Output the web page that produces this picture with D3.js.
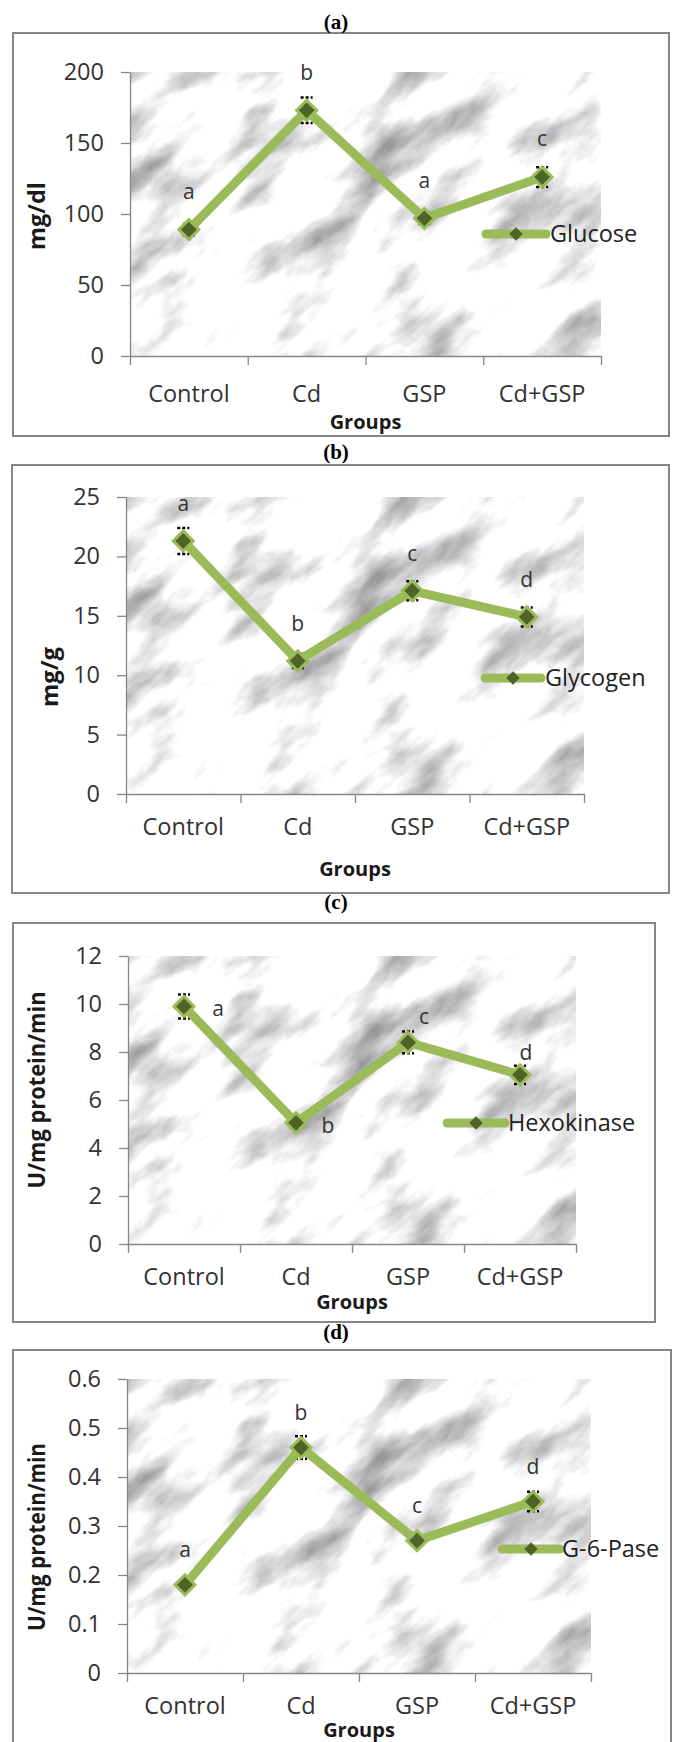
<!DOCTYPE html>
<html><head><meta charset="utf-8">
<script src="https://cdn.jsdelivr.net/npm/d3@7"></script>
<style>body{margin:0;background:#fff} svg{display:block}</style>
</head><body><svg id="c" width="673" height="1742"></svg>
<script>
const categories = ["Control","Cd","GSP","Cd+GSP"];

const glucoseValues = [89, 173, 97, 126];
const glucoseErrors = [4, 9, 4, 7];
const glucoseLetters = ["a","b","a","c"];
const glucoseTicks = [0,50,100,150,200];

const glycogenValues = [21.3, 11.2, 17.1, 14.9];
const glycogenErrors = [1.1, 0.6, 0.8, 0.8];
const glycogenLetters = ["a","b","c","d"];
const glycogenTicks = [0,5,10,15,20,25];

const hexokinaseValues = [9.9, 5.05, 8.4, 7.05];
const hexokinaseErrors = [0.5, 0.2, 0.45, 0.38];
const hexokinaseLetters = ["a","b","c","d"];
const hexokinaseTicks = [0,2,4,6,8,10,12];

const g6paseValues = [0.18, 0.46, 0.27, 0.35];
const g6paseErrors = [0.01, 0.023, 0.01, 0.02];
const g6paseLetters = ["a","b","c","d"];
const g6paseTicks = [0,0.1,0.2,0.3,0.4,0.5,0.6];

const panelTitles = ["(a)","(b)","(c)","(d)"];
const seriesNames = ["Glucose","Glycogen","Hexokinase","G-6-Pase"];
const yTitles = ["mg/dl","mg/g","U/mg protein/min","U/mg protein/min"];
const xTitle = "Groups";

const fmtInt = d3.format("d");
const fmtDec = d => d === 0 ? "0" : d3.format(".1f")(d);

const panels = [
  {values:glucoseValues, errors:glucoseErrors, letters:glucoseLetters, ticks:glucoseTicks, fmt:fmtInt,
   frame:[13,33,669,436], titleY:29, x0:130, x1:601, yTop:72, yBot:356,
   yt:{x:37,y:216,len:68}, catY:402, groupsY:429,
   legend:{x1:486,x2:546,y:234,tx:550},
   off:[[0,-38],[0,-38],[0,-38],[0,-38]]},
  {values:glycogenValues, errors:glycogenErrors, letters:glycogenLetters, ticks:glycogenTicks, fmt:fmtInt,
   frame:[12,465,669,893], titleY:459, x0:126, x1:584, yTop:497, yBot:794,
   yt:{x:50,y:677,len:60}, catY:835, groupsY:876,
   legend:{x1:485,x2:541,y:678,tx:545},
   off:[[0,-37],[0,-37],[0,-37],[0,-37]]},
  {values:hexokinaseValues, errors:hexokinaseErrors, letters:hexokinaseLetters, ticks:hexokinaseTicks, fmt:fmtInt,
   frame:[13,923,655,1322], titleY:909, x0:128, x1:576, yTop:956, yBot:1244,
   yt:{x:37,y:1090,len:197}, catY:1285, groupsY:1309,
   legend:{x1:447,x2:505,y:1123,tx:508},
   off:[[34,2],[32,3],[16,-26],[6,-22]]},
  {values:g6paseValues, errors:g6paseErrors, letters:g6paseLetters, ticks:g6paseTicks, fmt:fmtDec,
   frame:[13,1350,671,1762], titleY:1339, x0:127, x1:591, yTop:1379, yBot:1673,
   yt:{x:37,y:1537,len:188}, catY:1714, groupsY:1737,
   legend:{x1:502,x2:560,y:1549,tx:562},
   off:[[0,-35],[0,-35],[0,-35],[0,-35]]}
];

const FONT = "'Open Sans', 'Noto Sans', sans-serif";
const LINE = "#9bbb59", MARK = "#4f6228", TXT = "#333333", AX = "#868686";

const svg = d3.select("#c");
const defs = svg.append("defs");
const f = defs.append("filter").attr("id","marble")
  .attr("x",0).attr("y",0).attr("width",1).attr("height",1)
  .attr("color-interpolation-filters","sRGB");
f.append("feTurbulence").attr("type","fractalNoise").attr("baseFrequency","0.01 0.024")
  .attr("numOctaves",5).attr("seed",7).attr("result","n");
f.append("feColorMatrix").attr("type","matrix")
  .attr("values","1.1 0 0 0 0.43  1.1 0 0 0 0.43  1.1 0 0 0 0.44  0 0 0 0 1");

panels.forEach((p,i) => {
  const g = svg.append("g");
  const [fx0,fy0,fx1,fy1] = p.frame;
  g.append("rect").attr("x",fx0).attr("y",fy0).attr("width",fx1-fx0).attr("height",fy1-fy0)
    .attr("fill","#fff").attr("stroke",AX).attr("stroke-width",2);
  svg.append("text").attr("x",336).attr("y",p.titleY).attr("text-anchor","middle")
    .attr("font-family","'Liberation Serif', 'Times New Roman', serif").attr("font-weight","bold")
    .attr("font-size",21).attr("fill","#000").text(panelTitles[i]);

  const x = d3.scaleBand().domain(categories).range([p.x0,p.x1]);
  const xb = d3.scaleLinear().domain([0,categories.length]).range([p.x0,p.x1]);
  const y = d3.scaleLinear().domain([0,d3.max(p.ticks)]).range([p.yBot,p.yTop]);
  const cxOf = c => x(c) + x.bandwidth()/2;

  // marble background
  defs.append("clipPath").attr("id","clip"+i).append("rect")
    .attr("x",p.x0).attr("y",p.yTop).attr("width",p.x1-p.x0).attr("height",p.yBot-p.yTop);
  const bg = g.append("g").attr("clip-path",`url(#clip${i})`);
  bg.append("g").attr("transform",`translate(${(p.x0+p.x1)/2},${(p.yTop+p.yBot)/2}) rotate(-40)`)
    .append("rect").attr("x",-420).attr("y",-420).attr("width",840).attr("height",840)
    .attr("filter","url(#marble)");

  // axes
  const ya = g.append("g").attr("transform",`translate(${p.x0},0)`)
    .call(d3.axisLeft(y).tickValues(p.ticks).tickSize(9).tickSizeOuter(0).tickPadding(17).tickFormat(p.fmt));
  const xa = g.append("g").attr("transform",`translate(0,${p.yBot})`)
    .call(d3.axisBottom(xb).tickValues(d3.range(categories.length+1)).tickSize(9).tickSizeOuter(0).tickFormat(""));
  [ya,xa].forEach(a => {
    a.select(".domain").attr("stroke",AX).attr("stroke-width",1.3);
    a.selectAll(".tick line").attr("stroke",AX).attr("stroke-width",1.3);
    a.selectAll(".tick text").attr("font-family",FONT).attr("font-size",23.5).attr("fill",TXT);
  });

  // category labels
  g.selectAll(".cat").data(categories).enter().append("text")
    .attr("x",d => cxOf(d)).attr("y",p.catY).attr("text-anchor","middle")
    .attr("font-family",FONT).attr("font-size",23.5).attr("fill",TXT).text(d => d);
  g.append("text").attr("x",(p.x0+p.x1)/2).attr("y",p.groupsY).attr("text-anchor","middle")
    .attr("font-family",FONT).attr("font-weight","bold").attr("font-size",20).attr("fill","#1a1a1a").text(xTitle);
  g.append("text").attr("transform",`translate(${p.yt.x},${p.yt.y}) rotate(-90)`)
    .attr("text-anchor","middle").attr("dy","0.35em")
    .attr("textLength",p.yt.len).attr("lengthAdjust","spacingAndGlyphs")
    .attr("font-family",FONT).attr("font-weight","bold").attr("font-size",23).attr("fill","#1a1a1a").text(yTitles[i]);

  const data = categories.map((c,j) => ({c, v:p.values[j], e:p.errors[j], l:p.letters[j], o:p.off[j]}));

  // error bars
  const eb = g.append("g");
  data.forEach(d => {
    const cx = cxOf(d.c);
    eb.append("line").attr("x1",cx).attr("x2",cx).attr("y1",y(d.v-d.e)).attr("y2",y(d.v+d.e))
      .attr("stroke","#000").attr("stroke-width",1.5).attr("stroke-dasharray","3 2");
    [d.v-d.e, d.v+d.e].forEach(val => {
      eb.append("line").attr("x1",cx-6).attr("x2",cx+6).attr("y1",y(val)).attr("y2",y(val))
        .attr("stroke","#000").attr("stroke-width",2.5).attr("stroke-dasharray","3 2");
    });
  });

  // line
  g.append("path").datum(data)
    .attr("d", d3.line().x(d => cxOf(d.c)).y(d => y(d.v)))
    .attr("fill","none").attr("stroke",LINE).attr("stroke-width",9).attr("stroke-linejoin","round");

  // markers
  g.selectAll(".mk").data(data).enter().append("path")
    .attr("d", d3.symbol().type(d3.symbolSquare).size(200)())
    .attr("transform", d => `translate(${cxOf(d.c)},${y(d.v)}) rotate(45)`)
    .attr("fill",MARK).attr("stroke",LINE).attr("stroke-width",3);

  // letters
  g.selectAll(".lt").data(data).enter().append("text")
    .attr("x", d => cxOf(d.c) + d.o[0]).attr("y", d => y(d.v) + d.o[1])
    .attr("dy","0.35em").attr("text-anchor","middle")
    .attr("font-family",FONT).attr("font-size",21).attr("fill",TXT).text(d => d.l);

  // legend
  const L = p.legend;
  g.append("line").attr("x1",L.x1).attr("x2",L.x2).attr("y1",L.y).attr("y2",L.y)
    .attr("stroke",LINE).attr("stroke-width",9).attr("stroke-linecap","round");
  g.append("path").attr("d", d3.symbol().type(d3.symbolSquare).size(90)())
    .attr("transform",`translate(${(L.x1+L.x2)/2},${L.y}) rotate(45)`).attr("fill",MARK);
  g.append("text").attr("x",L.tx).attr("y",L.y).attr("dy","0.35em")
    .attr("font-family",FONT).attr("font-size",23.5).attr("fill","#222").text(seriesNames[i]);
});
</script></body></html>
